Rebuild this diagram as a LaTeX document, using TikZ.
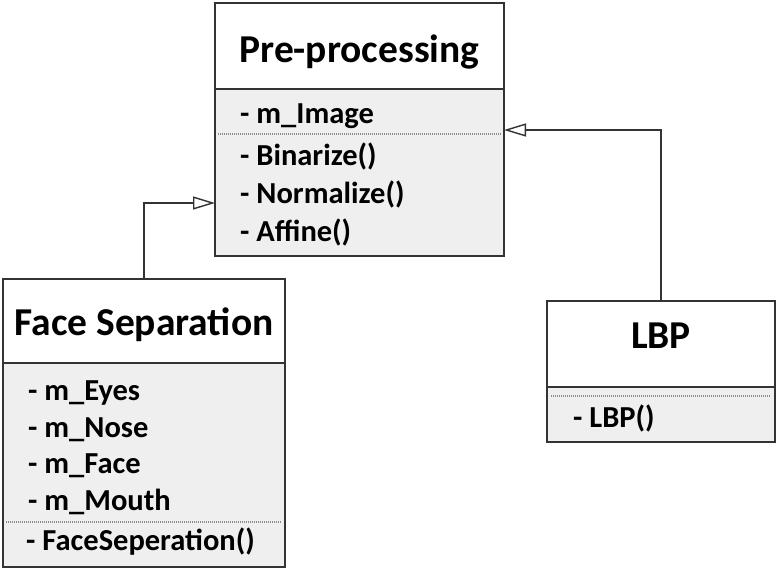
\documentclass[tikz,border=0pt]{standalone}
\usepackage{fontspec}
\setmainfont{Carlito}
\usetikzlibrary{arrows.meta}
\definecolor{boxline}{HTML}{333333}
\definecolor{lowfill}{HTML}{EFEFEF}
\begin{document}
\begin{tikzpicture}[x=1pt,y=-1pt,
  titlebox/.style={draw=boxline,line width=2pt,fill=white,inner sep=0pt},
  lowbox/.style={draw=boxline,line width=2pt,fill=lowfill,inner sep=0pt},
  titletext/.style={font=\fontsize{39.5}{44}\selectfont\bfseries,inner sep=0pt,anchor=base},
  rowtext/.style={font=\fontsize{30.5}{36}\selectfont\bfseries,inner sep=0pt,anchor=base west},
  sepline/.style={draw=gray!90,line width=1.2pt,dash pattern=on 1pt off 1pt},
  inherit/.style={draw=boxline,line width=1.4pt,-{Triangle[open,length=22pt,width=13pt,fill=white]}}]
\useasboundingbox (0,0) rectangle (779,572);
% Pre-processing
\node[titlebox,minimum width=289pt,minimum height=86pt] (ppT) at (359.5,46) {};
\node[lowbox,minimum width=289pt,minimum height=167pt] (ppL) at (359.5,172.5) {};
\node[titletext] (ppTitle) at (359.5,63) {Pre-processing};
\node[rowtext] (pp1) at (240,124) {- m\_Image};
\draw[sepline] (218,134) -- (501,134);
\node[rowtext] (pp2) at (240,166) {- Binarize()};
\node[rowtext] (pp3) at (240,204) {- Normalize()};
\node[rowtext] (pp4) at (240,241) {- Affine()};
% Face Separation
\node[titlebox,minimum width=282pt,minimum height=84pt] (fsT) at (144,321) {};
\node[lowbox,minimum width=282pt,minimum height=204pt] (fsL) at (144,465) {};
\node[titletext] (fsTitle) at (144,335) {Face Separation};
\node[rowtext] (fs1) at (28,400) {- m\_Eyes};
\node[rowtext] (fs2) at (28,437) {- m\_Nose};
\node[rowtext] (fs3) at (28,473) {- m\_Face};
\node[rowtext] (fs4) at (28,510) {- m\_Mouth};
\draw[sepline] (6,522) -- (282,522);
\node[rowtext] (fs5) at (26,550) {- FaceSeperation()};
% LBP
\node[titlebox,minimum width=228pt,minimum height=86pt] (lbT) at (661,344) {};
\node[lowbox,minimum width=228pt,minimum height=55pt] (lbL) at (661,414.5) {};
\node[titletext] (lbTitle) at (661,348) {LBP};
\draw[sepline] (551,396) -- (771,396);
\node[rowtext] (lb1) at (573,427) {- LBP()};
% connectors
\coordinate (fsTop) at (144,279);
\coordinate (ppIn1) at (215,203);
\coordinate (lbTop) at (661,301);
\coordinate (ppIn2) at (504,130);
\draw[inherit] (fsTop) |- (ppIn1);
\draw[inherit] (lbTop) |- (ppIn2);
\end{tikzpicture}
\end{document}
